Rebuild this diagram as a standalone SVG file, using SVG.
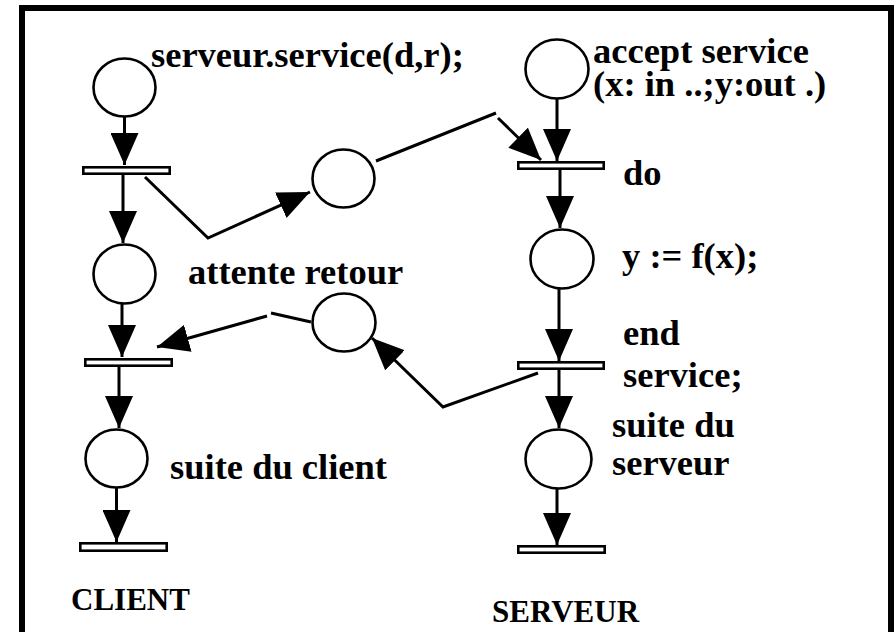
<svg xmlns="http://www.w3.org/2000/svg" width="895" height="632" viewBox="0 0 895 632">
<style>
.place{fill:#fff;stroke:#000;stroke-width:2.6}
.trans{fill:#fff;stroke:#000;stroke-width:2.6}
.arc{fill:none;stroke:#000;stroke-width:3}
text{font-family:'Liberation Serif','DejaVu Serif',serif;font-weight:bold;fill:#000}
.lbl{font-size:36.5px}
.big{font-size:31px}
</style>
<defs>
<marker id="ah" markerUnits="userSpaceOnUse" markerWidth="32" markerHeight="28" refX="32" refY="14" orient="auto">
<path d="M0,0 L32,14 L0,28 z" fill="#000"/>
</marker>
</defs>
<rect x="0" y="0" width="895" height="632" fill="#fff"/>
<rect x="22" y="8" width="869" height="640" fill="none" stroke="#000" stroke-width="6"/>

<g id="connectors">
<line class="arc" x1="124.5" y1="117" x2="124.5" y2="165" marker-end="url(#ah)"/>
<line class="arc" x1="123" y1="175" x2="123" y2="243" marker-end="url(#ah)"/>
<line class="arc" x1="122" y1="304" x2="122" y2="357" marker-end="url(#ah)"/>
<line class="arc" x1="119" y1="367" x2="119" y2="428" marker-end="url(#ah)"/>
<line class="arc" x1="116.5" y1="488" x2="116.5" y2="542" marker-end="url(#ah)"/>
<line class="arc" x1="557" y1="99" x2="557" y2="161" marker-end="url(#ah)"/>
<line class="arc" x1="560" y1="170" x2="560" y2="228" marker-end="url(#ah)"/>
<line class="arc" x1="559" y1="289" x2="559" y2="361" marker-end="url(#ah)"/>
<line class="arc" x1="559" y1="370" x2="559" y2="428" marker-end="url(#ah)"/>
<line class="arc" x1="557" y1="489" x2="557" y2="545" marker-end="url(#ah)"/>
<path class="arc" d="M145,177 L208,238 L310,192" marker-end="url(#ah)"/>
<path class="arc" d="M376,161 L496,113 M498,118 L541,160" marker-end="url(#ah)"/>
<path class="arc" d="M538,373 L443,407 L372,338" marker-end="url(#ah)"/>
<path class="arc" d="M311,322 L271,313 M267,316 L157,347" marker-end="url(#ah)"/>
</g>

<g id="client-p1"><ellipse class="place" cx="124.5" cy="87.5" rx="31" ry="29"/></g>
<g id="client-t1"><rect class="trans" x="83.3" y="167.3" width="86.4" height="6.4"/></g>
<g id="client-p2"><ellipse class="place" cx="124.5" cy="274" rx="31" ry="29.5"/></g>
<g id="client-t2"><rect class="trans" x="85.3" y="359.3" width="86.4" height="6.4"/></g>
<g id="client-p3"><ellipse class="place" cx="116.5" cy="458.5" rx="31" ry="29"/></g>
<g id="client-t3"><rect class="trans" x="80.3" y="543.3" width="86.4" height="7.4"/></g>

<g id="msg-call"><ellipse class="place" cx="343.5" cy="178.5" rx="31" ry="29"/></g>
<g id="msg-return"><ellipse class="place" cx="344" cy="322.5" rx="31.5" ry="29"/></g>

<g id="server-p1"><ellipse class="place" cx="557" cy="69" rx="31.5" ry="29.5"/></g>
<g id="server-t1"><rect class="trans" x="518.3" y="162.3" width="85.4" height="6.4"/></g>
<g id="server-p2"><ellipse class="place" cx="562" cy="259" rx="31.5" ry="29.5"/></g>
<g id="server-t2"><rect class="trans" x="518.3" y="362.3" width="85.4" height="6.4"/></g>
<g id="server-p3"><ellipse class="place" cx="558.5" cy="459" rx="33" ry="29.5"/></g>
<g id="server-t3"><rect class="trans" x="518.3" y="546.3" width="86.4" height="6.4"/></g>

<g id="labels">
<text class="lbl" x="151" y="67">serveur.service(d,r);</text>
<text class="lbl" x="593" y="63">accept service</text>
<text class="lbl" x="593" y="96">(x: in ..;y:out .)</text>
<text class="lbl" x="623" y="185">do</text>
<text class="lbl" x="622" y="268">y := f(x);</text>
<text class="lbl" x="188" y="284">attente retour</text>
<text class="lbl" x="623" y="345">end</text>
<text class="lbl" x="623" y="387">service;</text>
<text class="lbl" x="612" y="437">suite du</text>
<text class="lbl" x="612" y="475">serveur</text>
<text class="lbl" x="170" y="479">suite du client</text>
<text class="big" x="71" y="610">CLIENT</text>
<text class="big" x="492" y="622">SERVEUR</text>
</g>
</svg>
